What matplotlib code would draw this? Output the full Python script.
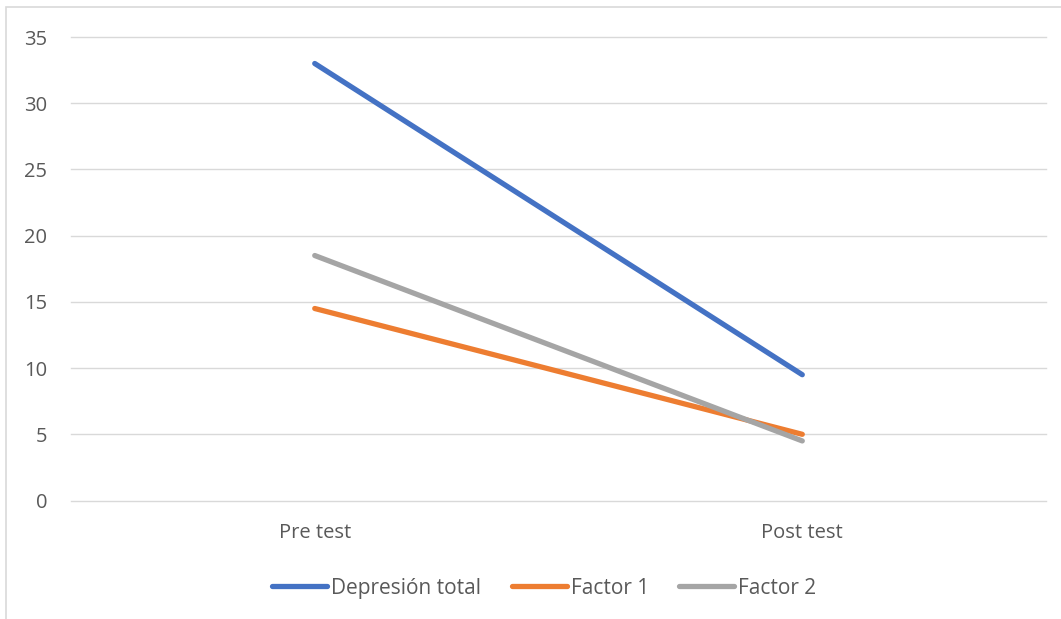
import matplotlib.pyplot as plt
from matplotlib.patches import Rectangle

# Data
categories = ["Pre test", "Post test"]
depresion_total = [33, 9.5]
factor_1 = [14.5, 5]
factor_2 = [18.5, 4.5]

plt.rcParams['font.family'] = ['Open Sans', 'DejaVu Sans']
text_color = "#595959"

fig = plt.figure(figsize=(10.61, 6.19), dpi=100)
ax = fig.add_axes([0.0669, 0.1914, 0.919, 0.7488])

x = list(range(len(categories)))
ax.plot(x, depresion_total, color="#4472C4", lw=3.8, solid_capstyle="round", label="Depresión total", zorder=3)
ax.plot(x, factor_1, color="#ED7D31", lw=3.8, solid_capstyle="round", label="Factor 1", zorder=3)
ax.plot(x, factor_2, color="#A5A5A5", lw=3.8, solid_capstyle="round", label="Factor 2", zorder=3)

ax.set_xlim(-0.5, 1.5)
ax.set_ylim(0, 35)
ax.set_yticks(range(0, 36, 5))
ax.set_xticks(x)
ax.set_xticklabels(categories)
ax.grid(axis="y", color="#D9D9D9", lw=1.0)
for gl in ax.get_ygridlines():
    gl.set_clip_on(False)
ax.set_axisbelow(True)
for s in ax.spines.values():
    s.set_visible(False)
ax.tick_params(axis="both", length=0, labelsize=14.5, labelcolor=text_color)
ax.tick_params(axis="y", pad=17)
ax.tick_params(axis="x", pad=16.5)

fig.legend(loc="center", bbox_to_anchor=(0.513, 0.05), ncol=3, frameon=False,
           fontsize=15, labelcolor=text_color, handlelength=2.64, handletextpad=0.2,
           columnspacing=1.45)

# outer chart border
fig.patches.append(Rectangle((6 / 1061, -0.1), 1.2, 1 - 7 / 619 + 0.1,
                             transform=fig.transFigure, fill=False,
                             edgecolor="#D9D9D9", lw=1.2))

plt.savefig("out.png", dpi=100)
